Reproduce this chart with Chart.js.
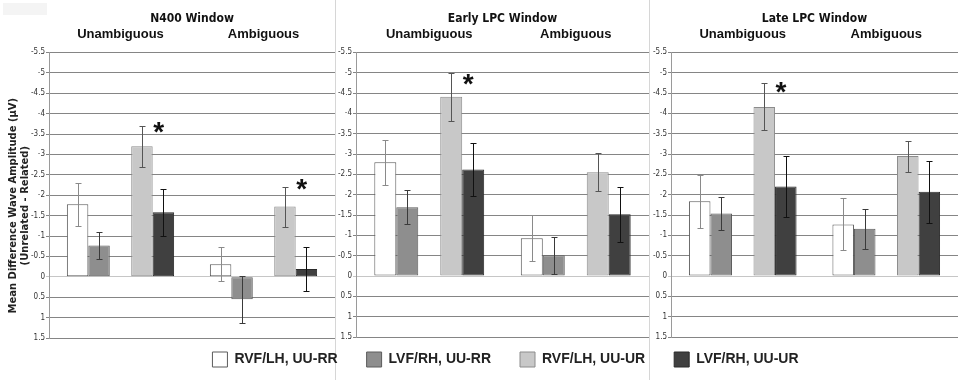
<!DOCTYPE html>
<html>
<head>
<meta charset="utf-8">
<script src="https://cdn.jsdelivr.net/npm/chart.js@4.4.1/dist/chart.umd.min.js"></script>
<style>
  html, body { margin: 0; padding: 0; background: #fff; }
  body { width: 958px; height: 380px; position: relative; overflow: hidden; }
  .panel { position: absolute; top: 0; height: 380px; }
  .panel canvas, #legendBox canvas { display: block; }
  #p1 { left: 0; width: 335px; border-right: 1px solid #d6d6d6; }
  #p2 { left: 336px; width: 313px; border-right: 1px solid #d6d6d6; }
  #p3 { left: 650px; width: 308px; }
  #legendBox { position: absolute; left: 0; top: 323px; width: 958px; height: 90px; }
  #corner { position: absolute; left: 3px; top: 3px; width: 44px; height: 12px; background: #f4f4f4; }
</style>
</head>
<body>
<div id="corner"></div>
<div class="panel" id="p1"><canvas id="n400Chart" width="335" height="380"></canvas></div>
<div class="panel" id="p2"><canvas id="earlyChart" width="313" height="380"></canvas></div>
<div class="panel" id="p3"><canvas id="lateChart" width="308" height="380"></canvas></div>
<div id="legendBox"><canvas id="legendChart" width="958" height="90"></canvas></div>
<script>
const groups = ["Unambiguous", "Ambiguous"];
const seriesLabels = ["RVF/LH, UU-RR", "LVF/RH, UU-RR", "RVF/LH, UU-UR", "LVF/RH, UU-UR"];
const seriesColors = ["#ffffff", "#8e8e8e", "#c8c8c8", "#404040"];
const seriesBorders = ["#5a5a5a", "#5c5c5c", "#8c8c8c", "#2a2a2a"];
const errorColors = ["#8a8a8a", "#3a3a3a", "#555555", "#111111"];
const yMin = -5.5, yMax = 1.5, yStep = 0.5;

// mean difference per series: [Unambiguous, Ambiguous]
const n400Means   = [[-1.78, -0.31], [-0.77, 0.55], [-3.20, -1.72], [-1.58, -0.19]];
const n400Errors  = [[0.53, 0.41], [0.33, 0.58], [0.50, 0.49], [0.58, 0.53]];
const n400Stars   = [[0, 2, -3.67], [1, 2, -2.27]]; // [group, series, value]

const earlyMeans  = [[-2.80, -0.93], [-1.69, -0.51], [-4.41, -2.55], [-2.62, -1.52]];
const earlyErrors = [[0.55, 0.56], [0.42, 0.46], [0.59, 0.47], [0.66, 0.68]];
const earlyStars  = [[0, 2, -4.83]];

const lateMeans   = [[-1.84, -1.27], [-1.54, -1.16], [-4.16, -2.95], [-2.20, -2.07]];
const lateErrors  = [[0.65, 0.64], [0.41, 0.49], [0.58, 0.38], [0.74, 0.77]];
const lateStars   = [[0, 2, -4.63]];

const condensed = "'DejaVu Sans Condensed', 'DejaVu Sans', sans-serif";
const sans = "'Liberation Sans', Arial, sans-serif";

// error bars drawn after the bars
const errorBars = {
  id: "errorBars",
  afterDatasetsDraw(chart) {
    const ctx = chart.ctx;
    const y = chart.scales.y;
    chart.data.datasets.forEach((ds, di) => {
      if (!ds.errors) return;
      chart.getDatasetMeta(di).data.forEach((bar, j) => {
        const v = ds.data[j], e = ds.errors[j];
        const x = Math.round(bar.x) + 0.5;
        const top = Math.round(y.getPixelForValue(v - e)) + 0.5;
        const bot = Math.round(y.getPixelForValue(v + e)) + 0.5;
        ctx.save();
        ctx.strokeStyle = ds.errColor;
        ctx.lineWidth = 1;
        ctx.beginPath();
        ctx.moveTo(x, top); ctx.lineTo(x, bot);
        ctx.moveTo(x - 3, top); ctx.lineTo(x + 3, top);
        ctx.moveTo(x - 3, bot); ctx.lineTo(x + 3, bot);
        ctx.stroke();
        ctx.restore();
      });
    });
  }
};

// significance asterisks
const sigStars = {
  id: "sigStars",
  afterDatasetsDraw(chart, args, opts) {
    const ctx = chart.ctx;
    const y = chart.scales.y;
    (opts.marks || []).forEach(([g, s, v]) => {
      const di = s < 2 ? s : s + 1;
      const bar = chart.getDatasetMeta(di).data[g];
      const cx = bar.x + bar.width / 2 + 6;
      const cy = y.getPixelForValue(v);
      ctx.save();
      ctx.font = "bold 28px " + sans;
      ctx.fillStyle = "#111";
      ctx.textAlign = "center";
      ctx.textBaseline = "alphabetic";
      const m = ctx.measureText("*");
      ctx.fillText("*", cx, cy + (m.actualBoundingBoxAscent - m.actualBoundingBoxDescent) / 2);
      ctx.restore();
    });
  }
};

function buildDatasets(means, errors) {
  const ds = seriesLabels.map((label, i) => ({
    label: label,
    data: means[i],
    errors: errors[i],
    errColor: errorColors[i],
    backgroundColor: seriesColors[i],
    borderColor: seriesBorders[i],
    borderWidth: 1,
    borderSkipped: false
  }));
  // empty slot between the UU-RR and UU-UR pairs
  ds.splice(2, 0, { label: "", data: groups.map(() => null), backgroundColor: "transparent", borderWidth: 0 });
  return ds;
}

function makePanel(id, title, means, errors, stars, axisWidth, bottomPad, yTitle) {
  return new Chart(document.getElementById(id), {
    type: "bar",
    data: { labels: groups, datasets: buildDatasets(means, errors) },
    options: {
      responsive: false,
      animation: false,
      categoryPercentage: 0.75,
      barPercentage: 1.0,
      layout: { padding: { top: 0, left: 0, right: 0, bottom: bottomPad } },
      scales: {
        x: {
          position: "top",
          grid: { display: false, drawTicks: false },
          border: { display: false },
          ticks: { font: { family: sans, size: 13, weight: "bold" }, color: "#111", padding: 10 },
          afterFit: s => { s.height = 26; }
        },
        y: {
          reverse: true,
          min: yMin,
          max: yMax,
          ticks: {
            stepSize: yStep,
            padding: 1,
            color: "#333",
            font: { family: condensed, size: 8 },
            callback: v => String(Math.round(v * 10) / 10)
          },
          grid: {
            color: c => (c.tick && Math.abs(c.tick.value) < 1e-9) ? "#c6c6c6" : "#858585",
            lineWidth: 1,
            tickLength: 3
          },
          border: { color: "#9a9a9a" },
          title: yTitle ? {
            display: true,
            text: yTitle,
            color: "#222",
            font: { family: "'DejaVu Sans', sans-serif", size: 10, weight: "bold", lineHeight: 1.2 },
            padding: { top: 7, bottom: 0 }
          } : { display: false },
          afterFit: s => { s.width = axisWidth; }
        }
      },
      plugins: {
        legend: { display: false },
        tooltip: { enabled: false },
        title: {
          display: true,
          fullSize: false,
          text: title,
          color: "#111",
          font: { family: condensed, size: 12, weight: "bold" },
          padding: { top: 12, bottom: 0 }
        },
        sigStars: { marks: stars }
      }
    },
    plugins: [errorBars, sigStars]
  });
}

makePanel("n400Chart", "N400 Window", n400Means, n400Errors, n400Stars, 49, 42,
  ["Mean Difference Wave Amplitude (\u03BCV)      ", "(Unrelated - Related)      "]);
makePanel("earlyChart", "Early LPC Window", earlyMeans, earlyErrors, earlyStars, 20, 43, null);
makePanel("lateChart", "Late LPC Window", lateMeans, lateErrors, lateStars, 21, 43, null);

// shared legend under the three panels
new Chart(document.getElementById("legendChart"), {
  type: "bar",
  data: {
    labels: [],
    datasets: seriesLabels.map((label, i) => ({
      label: label,
      data: [],
      backgroundColor: seriesColors[i],
      borderColor: seriesBorders[i],
      borderWidth: 1
    }))
  },
  options: {
    responsive: false,
    animation: false,
    layout: { padding: { left: 53 } },
    scales: { x: { display: false }, y: { display: false } },
    plugins: {
      tooltip: { enabled: false },
      legend: {
        position: "top",
        maxHeight: 90,
        onClick: null,
        labels: {
          boxWidth: 15,
          boxHeight: 15,
          padding: 29,
          color: "#222",
          font: { family: sans, size: 14, weight: "bold" }
        }
      }
    }
  }
});
</script>
</body>
</html>
